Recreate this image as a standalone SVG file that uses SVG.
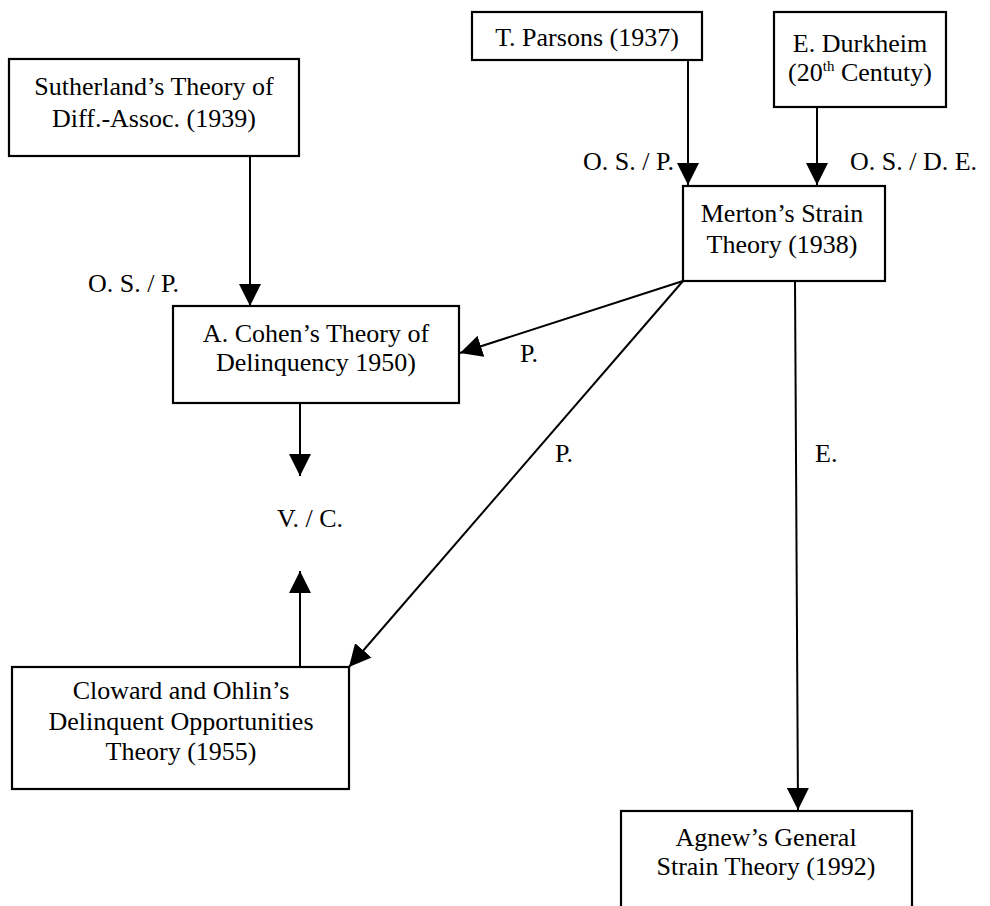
<svg xmlns="http://www.w3.org/2000/svg" width="990" height="906" viewBox="0 0 990 906">
  <style>
    .box { fill: #fff; stroke: #000; stroke-width: 2.2; }
    .t { font-family: "Liberation Serif", "Times New Roman", serif; font-size: 26px; fill: #000; text-anchor: middle; }
    .lbl { font-family: "Liberation Serif", "Times New Roman", serif; font-size: 26px; fill: #000; }
    .edge { stroke: #000; stroke-width: 2; fill: none; marker-end: url(#arrow); }
  </style>
  <defs>
    <marker id="arrow" markerUnits="userSpaceOnUse" markerWidth="22" markerHeight="22" viewBox="0 0 22 22" refX="22" refY="11" orient="auto">
      <path d="M0,0 L22,11 L0,22 Z" fill="#000"/>
    </marker>
  </defs>
  <rect width="990" height="906" fill="#fff"/>

  <!-- connectors -->
  <g id="connectors">
    <line class="edge" x1="250" y1="156" x2="250" y2="306"/>
    <line class="edge" x1="688" y1="60" x2="688" y2="185"/>
    <line class="edge" x1="817" y1="107" x2="817" y2="185"/>
    <line class="edge" x1="683" y1="281" x2="460" y2="353"/>
    <line class="edge" x1="683" y1="281" x2="349" y2="667"/>
    <line class="edge" x1="795" y1="281" x2="798" y2="810"/>
    <line class="edge" x1="300" y1="403" x2="300" y2="476"/>
    <line class="edge" x1="300" y1="667" x2="300" y2="571"/>
  </g>

  <!-- edge labels -->
  <g id="labels">
    <text class="lbl" x="88" y="292">O. S. / P.</text>
    <text class="lbl" x="583" y="170">O. S. / P.</text>
    <text class="lbl" x="850" y="170">O. S. / D. E.</text>
    <text class="lbl" x="520" y="362">P.</text>
    <text class="lbl" x="555" y="462">P.</text>
    <text class="lbl" x="815" y="462">E.</text>
    <text class="lbl" x="277" y="527">V. / C.</text>
  </g>

  <g id="sutherland">
    <rect class="box" x="9" y="59" width="290" height="97"/>
    <text class="t" x="154" y="95">Sutherland’s Theory of</text>
    <text class="t" x="154" y="127">Diff.-Assoc. (1939)</text>
  </g>

  <g id="parsons">
    <rect class="box" x="472" y="12" width="230" height="48"/>
    <text class="t" x="587" y="46">T. Parsons (1937)</text>
  </g>

  <g id="durkheim">
    <rect class="box" x="774" y="12" width="172" height="95"/>
    <text class="t" x="860" y="52">E. Durkheim</text>
    <text class="t" x="860" y="81">(20<tspan font-size="15" dy="-10">th</tspan><tspan dy="10"> Centuty)</tspan></text>
  </g>

  <g id="merton">
    <rect class="box" x="683" y="186" width="202" height="95"/>
    <text class="t" x="782" y="222">Merton’s Strain</text>
    <text class="t" x="782" y="253">Theory (1938)</text>
  </g>

  <g id="cohen">
    <rect class="box" x="173" y="306" width="286" height="97"/>
    <text class="t" x="316" y="342">A. Cohen’s Theory of</text>
    <text class="t" x="316" y="371">Delinquency 1950)</text>
  </g>

  <g id="cloward">
    <rect class="box" x="12" y="667" width="337" height="122"/>
    <text class="t" x="181" y="699">Cloward and Ohlin’s</text>
    <text class="t" x="181" y="730">Delinquent Opportunities</text>
    <text class="t" x="181" y="760">Theory (1955)</text>
  </g>

  <g id="agnew">
    <rect class="box" x="621" y="811" width="291" height="110"/>
    <text class="t" x="766" y="846">Agnew’s General</text>
    <text class="t" x="766" y="875">Strain Theory (1992)</text>
  </g>
</svg>
